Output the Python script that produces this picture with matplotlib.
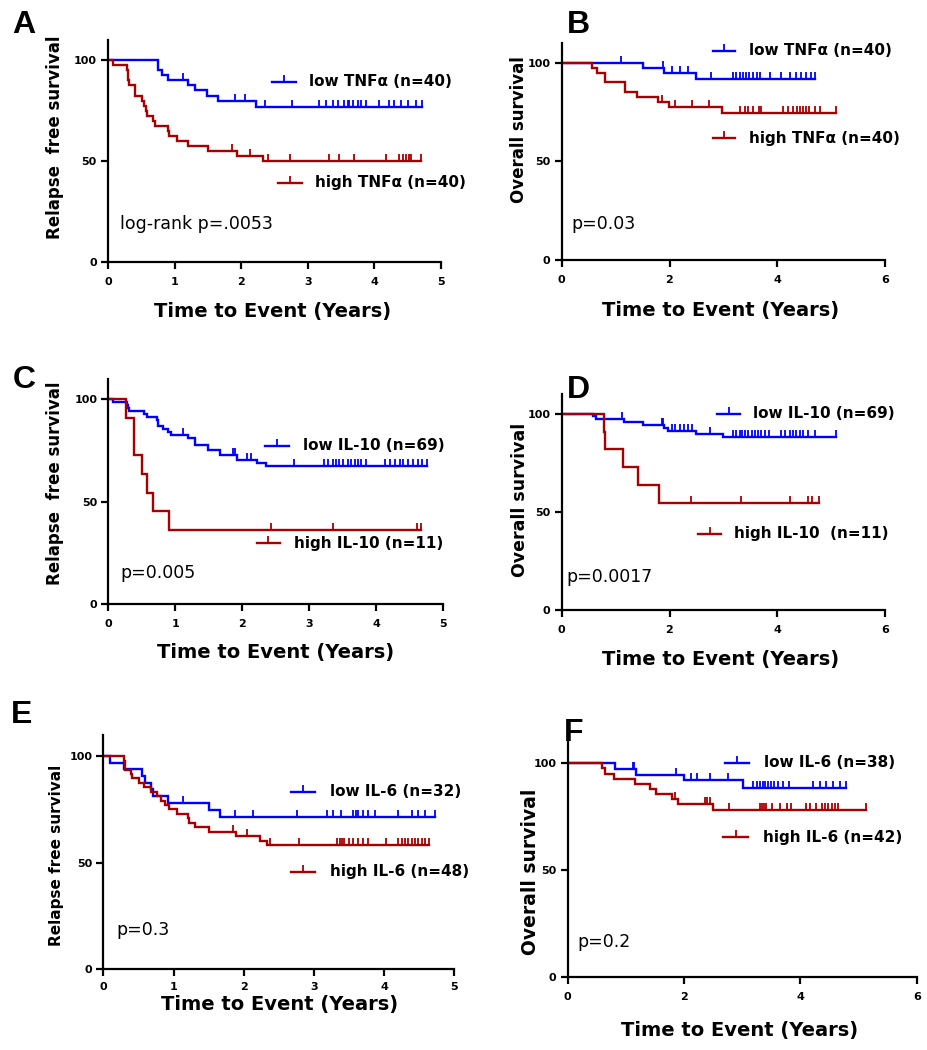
import numpy as np
import matplotlib.pyplot as plt

plt.rcParams['font.family'] = ['DejaVu Sans']

BLUE = '#0000ff'
RED = '#a80000'

# ---- A: relapse free survival, TNFa ----
a_low_t = [0.755, 0.805, 0.895, 1.195, 1.305, 1.48, 1.655, 2.215]
a_low_s = [95, 92.5, 90, 87.5, 85, 82.5, 80, 77]
a_low_c = [1.125, 1.9, 2.06, 2.36, 2.765, 3.175, 3.275, 3.375, 3.45, 3.55, 3.6, 3.625,
           3.675, 3.75, 3.8, 3.875, 4.075, 4.225, 4.3, 4.4, 4.5, 4.625, 4.715]
a_high_t = [0.08, 0.28, 0.295, 0.305, 0.315, 0.405, 0.505, 0.545, 0.565, 0.58, 0.68,
            0.705, 0.895, 0.915, 1.03, 1.205, 1.505, 1.93, 2.33]
a_high_s = [97.5, 95, 92.5, 90, 87.5, 82.5, 80, 77.5, 75, 72.5, 70, 67.5, 65, 62.5,
            60, 57.5, 55, 52.5, 50]
a_high_c = [1.865, 2.125, 2.4, 2.74, 3.315, 3.465, 3.69, 4.175, 4.375, 4.425, 4.475,
            4.515, 4.55, 4.7]

# ---- B: overall survival, TNFa ----
b_low_t = [1.5, 1.895, 2.49]
b_low_s = [97.5, 95, 92]
b_low_c = [1.107, 1.88, 2.04, 2.195, 2.35, 2.76, 3.18, 3.24, 3.3, 3.36, 3.42, 3.48,
           3.55, 3.62, 3.68, 3.855, 4.07, 4.225, 4.35, 4.44, 4.53, 4.62, 4.7]
b_high_t = [0.566, 0.659, 0.8, 0.812, 1.168, 1.397, 1.784, 1.993, 2.976]
b_high_s = [97.5, 95, 92.5, 90, 85, 82.5, 80, 77.5, 74.5]
b_high_c = [1.857, 2.103, 2.41, 2.73, 3.3, 3.39, 3.45, 3.54, 3.65, 3.7, 4.11, 4.19,
            4.29, 4.36, 4.41, 4.47, 4.53, 4.59, 4.7, 4.78, 5.08]

# ---- C: relapse free survival, IL-10 ----
c_low_t = [0.075, 0.274, 0.299, 0.309, 0.537, 0.572, 0.722, 0.746, 0.821, 0.896,
           0.935, 1.184, 1.294, 1.483, 1.667, 1.915, 2.225, 2.35]
c_low_s = [98.6, 97.1, 95.7, 94.2, 92.8, 91.3, 89.9, 87.0, 85.5, 84.1, 82.6, 81.1,
           77.5, 75.2, 72.8, 70.6, 69.0, 67.5]
c_low_c = [1.119, 1.866, 1.89, 2.065, 2.13, 2.765, 3.225, 3.275, 3.35, 3.4, 3.45, 3.5,
           3.575, 3.625, 3.675, 3.725, 3.775, 3.85, 4.125, 4.2, 4.275, 4.35, 4.4,
           4.475, 4.55, 4.625, 4.675, 4.75]
c_high_t = [0.26, 0.39, 0.51, 0.575, 0.665, 0.9]
c_high_s = [90.9, 72.7, 63.6, 54.5, 45.5, 36.4]
c_high_c = [2.435, 3.35, 4.6, 4.665]

# ---- D: overall survival, IL-10 ----
d_low_t = [0.584, 0.645, 1.15, 1.507, 1.9, 1.98, 2.49, 2.995]
d_low_s = [98.6, 97.1, 95.7, 94.2, 92.8, 91.3, 89.6, 88.0]
d_low_c = [1.12, 1.857, 1.888, 2.04, 2.1, 2.195, 2.27, 2.35, 2.41, 2.75, 3.18, 3.24,
           3.3, 3.35, 3.4, 3.46, 3.52, 3.58, 3.64, 3.7, 3.76, 3.84, 4.07, 4.13, 4.225,
           4.29, 4.35, 4.41, 4.47, 4.56, 4.69, 5.09]
d_high_t = [0.79, 0.81, 1.14, 1.41, 1.8]
d_high_s = [90.9, 81.8, 72.7, 63.6, 54.5]
d_high_c = [2.4, 3.315, 4.24, 4.565, 4.63, 4.77]

# ---- E: relapse free survival, IL-6 ----
e_low_t = [0.097, 0.288, 0.548, 0.596, 0.681, 0.7, 0.919, 1.508, 1.664]
e_low_s = [96.9, 93.8, 90.6, 87.5, 84.4, 81.2, 78.1, 74.8, 71.4]
e_low_c = [1.133, 1.873, 2.134, 2.751, 3.178, 3.273, 3.378, 3.558, 3.6, 3.63, 3.7,
           3.77, 3.87, 4.19, 4.39, 4.485, 4.58, 4.72]
e_high_t = [0.288, 0.3, 0.31, 0.397, 0.41, 0.51, 0.572, 0.68, 0.762, 0.824, 0.88,
            0.928, 1.047, 1.2, 1.214, 1.308, 1.498, 1.89, 2.23, 2.325]
e_high_s = [97.9, 95.8, 93.75, 91.7, 89.6, 87.5, 85.4, 83.3, 81.25, 79.2, 77.1, 75.0,
            72.9, 70.8, 68.75, 66.7, 64.6, 62.5, 60.4, 58.3]
e_high_c = [1.85, 2.04, 2.37, 2.79, 3.33, 3.37, 3.4, 3.43, 3.5, 3.56, 3.62, 3.7, 3.77,
            4.03, 4.2, 4.25, 4.3, 4.34, 4.39, 4.44, 4.48, 4.53, 4.58, 4.64]

# ---- F: overall survival, IL-6 ----
f_low_t = [0.816, 1.177, 2.0, 3.01]
f_low_s = [97.4, 94.7, 92.0, 88.5]
f_low_c = [1.12, 1.14, 1.864, 2.12, 2.23, 2.44, 2.76, 3.19, 3.25, 3.31, 3.36, 3.39,
           3.45, 3.5, 3.54, 3.62, 3.71, 3.8, 4.22, 4.34, 4.45, 4.57, 4.68, 4.79]
f_high_t = [0.587, 0.644, 0.8, 1.16, 1.418, 1.52, 1.79, 1.904, 2.505]
f_high_s = [97.6, 95.2, 92.9, 90.5, 88.1, 85.7, 83.3, 80.9, 78.1]
f_high_c = [1.85, 2.36, 2.39, 2.44, 2.78, 3.31, 3.35, 3.38, 3.41, 3.51, 3.65, 3.77,
            3.84, 4.1, 4.17, 4.27, 4.37, 4.42, 4.48, 4.54, 4.6, 4.65, 5.13]

labels_low = ['low TNFα (n=40)', 'low TNFα (n=40)', 'low IL-10 (n=69)',
              'low IL-10 (n=69)', 'low IL-6 (n=32)', 'low IL-6 (n=38)']
labels_high = ['high TNFα (n=40)', 'high TNFα (n=40)', 'high IL-10 (n=11)',
               'high IL-10  (n=11)', 'high IL-6 (n=48)', 'high IL-6 (n=42)']
pvals = ['log-rank p=.0053', 'p=0.03', 'p=0.005', 'p=0.0017', 'p=0.3', 'p=0.2']
ylabels = ['Relapse  free survival', 'Overall survival', 'Relapse  free survival',
           'Overall survival', 'Relapse free survival', 'Overall survival']
letters = ['A', 'B', 'C', 'D', 'E', 'F']

W, H = 928, 1050
fig = plt.figure(figsize=(W / 100, H / 100), dpi=100)

# pixel boxes: left, top, right, bottom
boxes = [(108, 40, 441, 262), (561.5, 43, 885.5, 260), (108.3, 379, 443.3, 604),
         (561.5, 394, 885.5, 610), (103.5, 735, 454.5, 969), (567.5, 742, 916.7, 977)]
xmax = [5, 6, 5, 6, 5, 6]
# layout of texts in axes fractions
ylab_pos = [(-0.16, 0.56), (-0.13, 0.6), (-0.159, 0.536), (-0.128, 0.51),
            (-0.135, 0.487), (-0.105, 0.446)]
ylab_size = [12, 12, 12, 12.5, 11, 13.5]
xlab_pos = [(0.495, -0.221), (0.49, -0.235), (0.5, -0.217), (0.49, -0.23),
            (0.503, -0.152), (0.494, -0.226)]
xtick_pad = [6, 6, 6, 6, 4, 6]
low_key = [(0.492, 0.565, 0.604, 0.811), (0.467, 0.535, 0.58, 0.964),
           (0.468, 0.538, 0.58, 0.704), (0.481, 0.551, 0.592, 0.909),
           (0.533, 0.603, 0.645, 0.757), (0.451, 0.521, 0.563, 0.912)]
high_key = [(0.51, 0.583, 0.622, 0.356), (0.467, 0.535, 0.58, 0.561),
            (0.443, 0.513, 0.554, 0.269), (0.422, 0.492, 0.532, 0.353),
            (0.533, 0.603, 0.645, 0.416), (0.446, 0.518, 0.559, 0.594)]
p_pos = [(0.036, 0.171), (0.031, 0.165), (0.035, 0.136), (0.016, 0.153),
         (0.036, 0.168), (0.028, 0.149)]
letter_pos = [(24, 25), (578, 25), (24, 380), (578, 390), (22, 715), (574, 733)]

curves = [(a_low_t, a_low_s, a_low_c, a_high_t, a_high_s, a_high_c),
          (b_low_t, b_low_s, b_low_c, b_high_t, b_high_s, b_high_c),
          (c_low_t, c_low_s, c_low_c, c_high_t, c_high_s, c_high_c),
          (d_low_t, d_low_s, d_low_c, d_high_t, d_high_s, d_high_c),
          (e_low_t, e_low_s, e_low_c, e_high_t, e_high_s, e_high_c),
          (f_low_t, f_low_s, f_low_c, f_high_t, f_high_s, f_high_c)]

LW = 1.7


def km(ax, t, s, cens, color):
    t = np.asarray(t)
    s = np.asarray(s, dtype=float)
    cens = np.asarray(cens)
    end = max(cens.max(), t.max())
    xs = np.r_[0, t, end]
    ys = np.r_[100, s, s[-1]]
    ax.step(xs, ys, where='post', color=color, lw=LW, solid_joinstyle='miter')
    idx = np.searchsorted(t, cens, side='right')
    cy = np.r_[100, s][idx]
    ax.plot(cens, cy, ls='none', marker=2, ms=5, mew=1.3, color=color)


def key(ax, k, label, color):
    x0, x1, tx, y = k
    ax.plot([x0, x1], [y, y], transform=ax.transAxes, color=color, lw=LW, clip_on=False)
    ax.plot([(x0 + x1) / 2], [y], transform=ax.transAxes, ls='none', marker=2, ms=5,
            mew=1.3, color=color, clip_on=False)
    ax.text(tx, y, label, transform=ax.transAxes, va='center', ha='left',
            fontsize=11, fontweight='bold')


for i in range(6):
    l, t, r, b = boxes[i]
    ax = fig.add_axes([l / W, 1 - b / H, (r - l) / W, (b - t) / H])
    lt, ls, lc, ht, hs, hc = curves[i]
    km(ax, lt, ls, lc, BLUE)
    km(ax, ht, hs, hc, RED)

    ax.set_xlim(0, xmax[i])
    ax.set_ylim(0, 110)
    xt = list(range(0, xmax[i] + 1, 1 if xmax[i] == 5 else 2))
    ax.set_xticks(xt, [str(v) for v in xt], fontweight='bold', fontsize=8)
    ax.set_yticks([0, 50, 100], ['0', '50', '100'], fontweight='bold', fontsize=8)
    ax.spines[['top', 'right']].set_visible(False)
    ax.spines[['left', 'bottom']].set_linewidth(1.6)
    ax.tick_params(width=1.6, length=5)
    ax.tick_params(axis='y', pad=3)
    ax.tick_params(axis='x', pad=xtick_pad[i])

    ax.set_ylabel(ylabels[i], fontsize=ylab_size[i], fontweight='bold', va='center')
    ax.yaxis.set_label_coords(*ylab_pos[i])
    ax.set_xlabel('Time to Event (Years)', fontsize=14, fontweight='bold', va='center')
    ax.xaxis.set_label_coords(*xlab_pos[i])

    key(ax, low_key[i], labels_low[i], BLUE)
    key(ax, high_key[i], labels_high[i], RED)
    ax.text(*p_pos[i], pvals[i], transform=ax.transAxes, va='center', ha='left',
            fontsize=12.5)

    fig.text(letter_pos[i][0] / W, 1 - letter_pos[i][1] / H, letters[i],
             fontsize=23, fontweight='bold', ha='center', va='center',
             family=['Liberation Sans Narrow', 'Liberation Sans'])

fig.savefig('out.png', dpi=100)
